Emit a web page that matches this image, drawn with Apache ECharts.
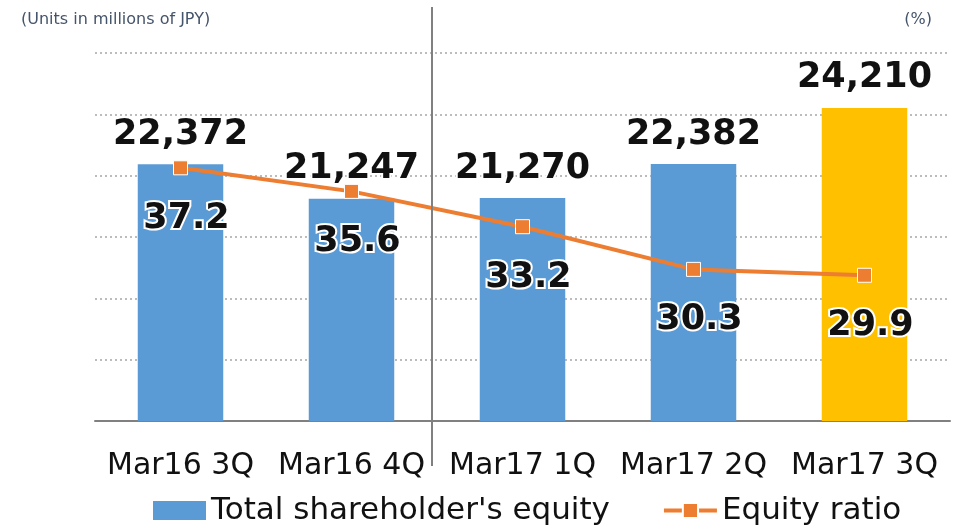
<!DOCTYPE html>
<html>
<head>
<meta charset="utf-8">
<script src="https://cdn.jsdelivr.net/npm/echarts@6/dist/echarts.min.js"></script>
<style>
  html, body { margin: 0; padding: 0; background: #fff; }
  #main { width: 959px; height: 531px; }
</style>
</head>
<body>
<div id="main"></div>
<script>
var categories = ["Mar16 3Q", "Mar16 4Q", "Mar17 1Q", "Mar17 2Q", "Mar17 3Q"];
var equity = [22372, 21247, 21270, 22382, 24210];
var ratio = [37.2, 35.6, 33.2, 30.3, 29.9];
var barColors = ["#5B9BD5", "#5B9BD5", "#5B9BD5", "#5B9BD5", "#FFC000"];

var chart = echarts.init(document.getElementById("main"));

var option = {
  backgroundColor: "#fff",
  animation: false,
  title: [
    {
      text: "(Units in millions of JPY)",
      left: 16, top: 7,
      textStyle: { fontFamily: "DejaVu Sans", fontSize: 16, fontWeight: "normal", color: "#44546A" }
    },
    {
      text: "(%)",
      right: 22, top: 7,
      textStyle: { fontFamily: "DejaVu Sans", fontSize: 16, fontWeight: "normal", color: "#44546A" }
    }
  ],
  grid: { left: 95, right: 9, top: 53, bottom: 110, containLabel: false },
  legend: {
    bottom: 0,
    left: 148,
    itemWidth: 53,
    itemHeight: 19,
    itemGap: 52,
    textStyle: { fontFamily: "DejaVu Sans", fontSize: 31, color: "#111" },
    data: [
      { name: "Total shareholder's equity", icon: "rect" },
      { name: "Equity ratio", lineStyle: { width: 4 } }
    ]
  },
  xAxis: {
    type: "category",
    data: categories,
    axisLine: { lineStyle: { color: "#808080", width: 2 } },
    axisTick: { show: false },
    axisLabel: { interval: 0, fontFamily: "DejaVu Sans", fontSize: 30, color: "#111", margin: 30 }
  },
  yAxis: [
    {
      type: "value",
      min: 14000, max: 26000, interval: 2000,
      axisLabel: { show: false },
      axisLine: { show: false },
      axisTick: { show: false },
      splitLine: { lineStyle: { color: "#A6A6A6", type: [2, 3], width: 1.5 } }
    },
    {
      type: "value",
      min: 20, max: 45,
      axisLabel: { show: false },
      axisLine: { show: false },
      axisTick: { show: false },
      splitLine: { show: false }
    }
  ],
  series: [
    {
      name: "Total shareholder's equity",
      type: "bar",
      barWidth: "50%",
      itemStyle: { color: "#5B9BD5" },
      data: equity.map(function (v, i) {
        return { value: v, itemStyle: { color: barColors[i] } };
      }),
      label: {
        show: true,
        position: "top",
        distance: 12,
        fontFamily: "DejaVu Sans",
        fontWeight: "bold",
        fontSize: 35,
        color: "#111",
        textBorderColor: "#fff",
        textBorderWidth: 4,
        formatter: function (p) {
          return p.value.toLocaleString("en-US");
        }
      }
    },
    {
      name: "Equity ratio",
      type: "line",
      yAxisIndex: 1,
      data: ratio,
      symbol: "rect",
      symbolSize: 14,
      itemStyle: { color: "#ED7D31", borderColor: "#fff", borderWidth: 1 },
      lineStyle: { color: "#ED7D31", width: 4 },
      label: {
        show: true,
        position: "bottom",
        distance: 26,
        offset: [6, 0],
        fontFamily: "DejaVu Sans",
        fontWeight: "bold",
        fontSize: 35,
        color: "#111",
        textBorderColor: "#fff",
        textBorderWidth: 4
      }
    }
  ],
  graphic: [
    {
      type: "line",
      shape: { x1: 432, y1: 7, x2: 432, y2: 466 },
      style: { stroke: "#808080", lineWidth: 2 },
      z: 100
    }
  ]
};

chart.setOption(option);
</script>
</body>
</html>
